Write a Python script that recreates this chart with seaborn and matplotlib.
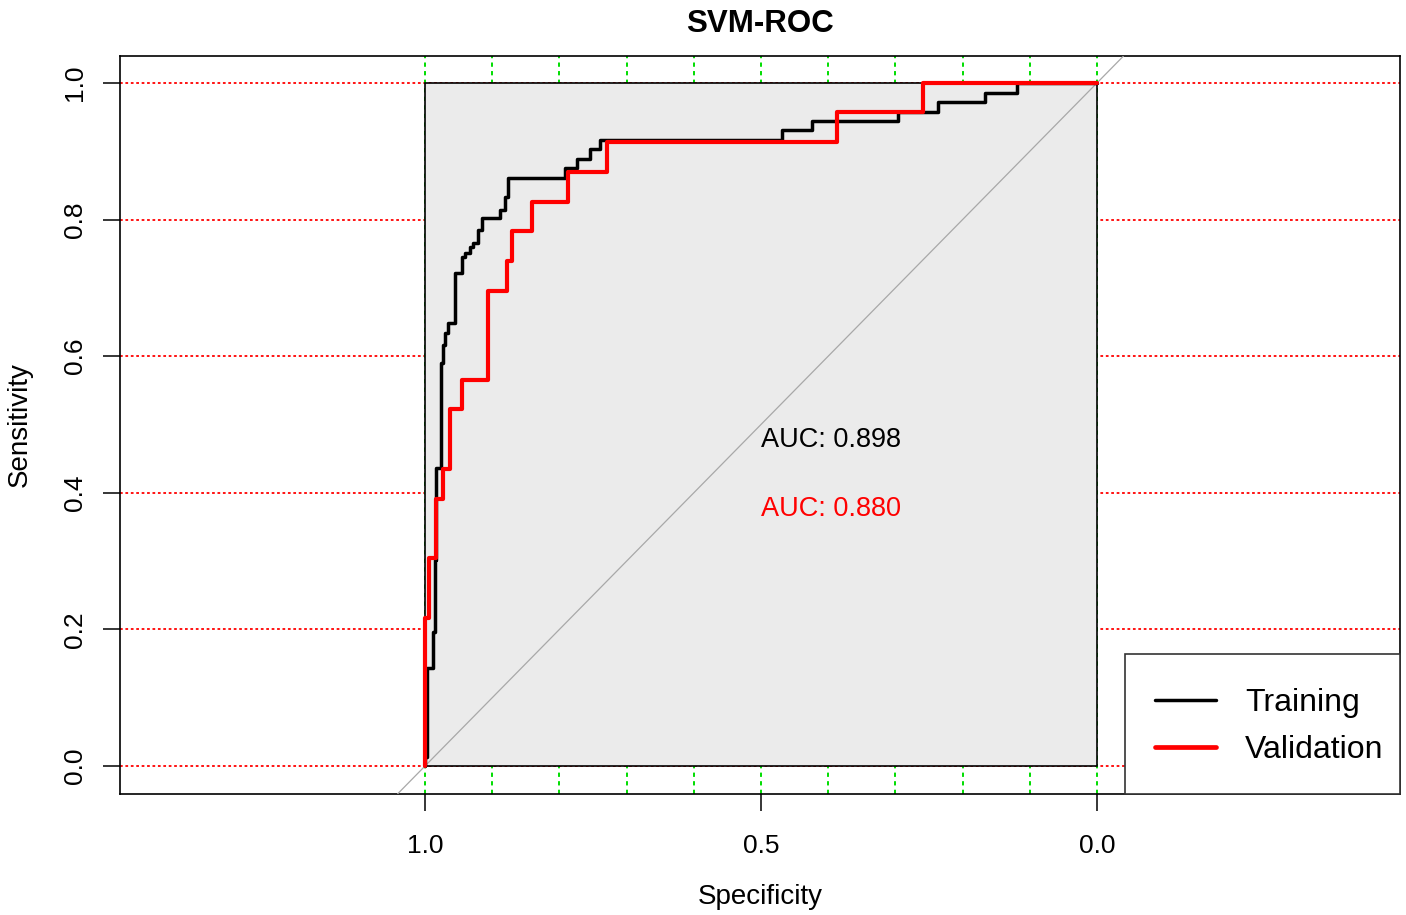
import numpy as np
import pandas as pd
import matplotlib
matplotlib.use("Agg")
import matplotlib.pyplot as plt
import seaborn as sns
from matplotlib.patches import Rectangle
from matplotlib.lines import Line2D

# ---------------- data ----------------
# Training ROC: at each specificity the curve rises to the given sensitivity
train_spec = [1.000, 0.997, 0.988, 0.985, 0.984, 0.976, 0.973, 0.970, 0.966, 0.955,
              0.945, 0.940, 0.933, 0.929, 0.921, 0.915, 0.888, 0.881, 0.876, 0.792,
              0.774, 0.754, 0.740, 0.469, 0.424, 0.296, 0.237, 0.167, 0.119]
train_sens = [0.013, 0.143, 0.196, 0.302, 0.436, 0.590, 0.616, 0.634, 0.649, 0.722,
              0.745, 0.751, 0.760, 0.766, 0.785, 0.802, 0.814, 0.833, 0.861, 0.875,
              0.889, 0.903, 0.917, 0.931, 0.944, 0.958, 0.972, 0.986, 1.000]
# Validation ROC
valid_spec = [1.000, 0.994, 0.984, 0.973, 0.963, 0.945, 0.906, 0.878, 0.871, 0.841,
              0.787, 0.729, 0.387, 0.259]
valid_sens = [0.217, 0.304, 0.391, 0.435, 0.522, 0.565, 0.696, 0.739, 0.783, 0.826,
              0.870, 0.913, 0.957, 1.000]
auc_labels = ["AUC: 0.898", "AUC: 0.880"]
series_names = ["Training", "Validation"]
series_colors = ["black", "#FF0000"]
x_ticks = [1.0, 0.5, 0.0]
x_ticklabels = ["1.0", "0.5", "0.0"]
y_ticks = [0.0, 0.2, 0.4, 0.6, 0.8, 1.0]
y_ticklabels = ["0.0", "0.2", "0.4", "0.6", "0.8", "1.0"]
spec_grid = [1.0, 0.9, 0.8, 0.7, 0.6, 0.5, 0.4, 0.3, 0.2, 0.1, 0.0]


def staircase(spec, sens, name):
    xs, ys = [spec[0]], [0.0]
    for i in range(len(spec)):
        xs.append(spec[i]); ys.append(sens[i])
        nxt = spec[i + 1] if i + 1 < len(spec) else 0.0
        xs.append(nxt); ys.append(sens[i])
    return pd.DataFrame({"Specificity": xs, "Sensitivity": ys, "set": name,
                         "order": range(len(xs))})


df_train = staircase(train_spec, train_sens, series_names[0])
df_valid = staircase(valid_spec, valid_sens, series_names[1])

# ---------------- style ----------------
sns.set_theme(style="white")
plt.rcParams["font.family"] = ["Liberation Sans", "DejaVu Sans"]

W, H = 1406, 915
fig = plt.figure(figsize=(W / 100, H / 100), dpi=100)
ax = fig.add_axes([120 / W, (H - 794) / H, 1280 / W, 738 / H])

ax.set_xlim(1.454, -0.451)
ax.set_ylim(-0.041, 1.0395)

# grid lines (behind the gray square)
for yv in y_ticks:
    ax.axhline(yv, color="#FF0000", lw=1.3, linestyle=(0, (1.5, 1.5)), zorder=1)
for xv in spec_grid:
    ax.axvline(xv, color="#00DD00", lw=1.4, linestyle=(0, (2.2, 2.2)), zorder=1)

# gray plotting square
ax.add_patch(Rectangle((0, 0), 1, 1, facecolor="#EBEBEB", edgecolor="black",
                       lw=1.2, zorder=2))
# chance diagonal
ax.axline((1, 0), (0, 1), color="#A8A8A8", lw=0.9, zorder=3)

sns.lineplot(data=df_train, x="Specificity", y="Sensitivity", sort=False,
             estimator=None, color=series_colors[0], lw=2.5, ax=ax, legend=False,
             zorder=4)
sns.lineplot(data=df_valid, x="Specificity", y="Sensitivity", sort=False,
             estimator=None, color=series_colors[1], lw=3.0, ax=ax, legend=False,
             zorder=5)

ax.text(0.5, 0.477, auc_labels[0], color=series_colors[0], fontsize=19.5, ha="left",
        va="center", zorder=6)
ax.text(0.5, 0.376, auc_labels[1], color=series_colors[1], fontsize=19.5, ha="left",
        va="center", zorder=6)

# ticks
ax.set_xticks(x_ticks)
ax.set_xticklabels(x_ticklabels)
ax.set_yticks(y_ticks)
ax.set_yticklabels(y_ticklabels, rotation=90, va="center")
ax.tick_params(axis="both", direction="out", length=12, width=1.1, color="black",
               labelsize=19, labelcolor="black", bottom=True, left=True)
ax.tick_params(axis="x", pad=17)
ax.tick_params(axis="y", pad=12)

for sp in ax.spines.values():
    sp.set_visible(True)
    sp.set_color("black")
    sp.set_linewidth(1.2)

ax.set_xlabel("Specificity", fontsize=20, color="black")
ax.set_ylabel("Sensitivity", fontsize=20, color="black")
ax.xaxis.set_label_coords(0.5, -0.122)
ax.yaxis.set_label_coords(-0.068, 0.5)
ax.set_title("SVM-ROC", fontsize=22.5, fontweight="bold", pad=17, color="black")

# legend box (R-style, anchored to the lower-right corner of the plot region)
tr = ax.transAxes
ax.add_patch(Rectangle((0.7852, 0.0), 0.2148, 0.1897, transform=tr, facecolor="white",
                       edgecolor="#333333", lw=1.2, zorder=7, clip_on=False))
leg_line_y = [0.1274, 0.0637]
leg_text_y = [0.1233, 0.0596]
leg_lw = [2.5, 3.4]
for i, name in enumerate(series_names):
    ax.add_line(Line2D([0.8086, 0.8563], [leg_line_y[i]] * 2, transform=tr,
                       color=series_colors[i], lw=leg_lw[i], solid_capstyle="round",
                       zorder=8))
    ax.text(0.8789, leg_text_y[i], name, transform=tr, fontsize=23, color="black",
            ha="left", va="center", zorder=8)

fig.savefig("out.png", dpi=100)
